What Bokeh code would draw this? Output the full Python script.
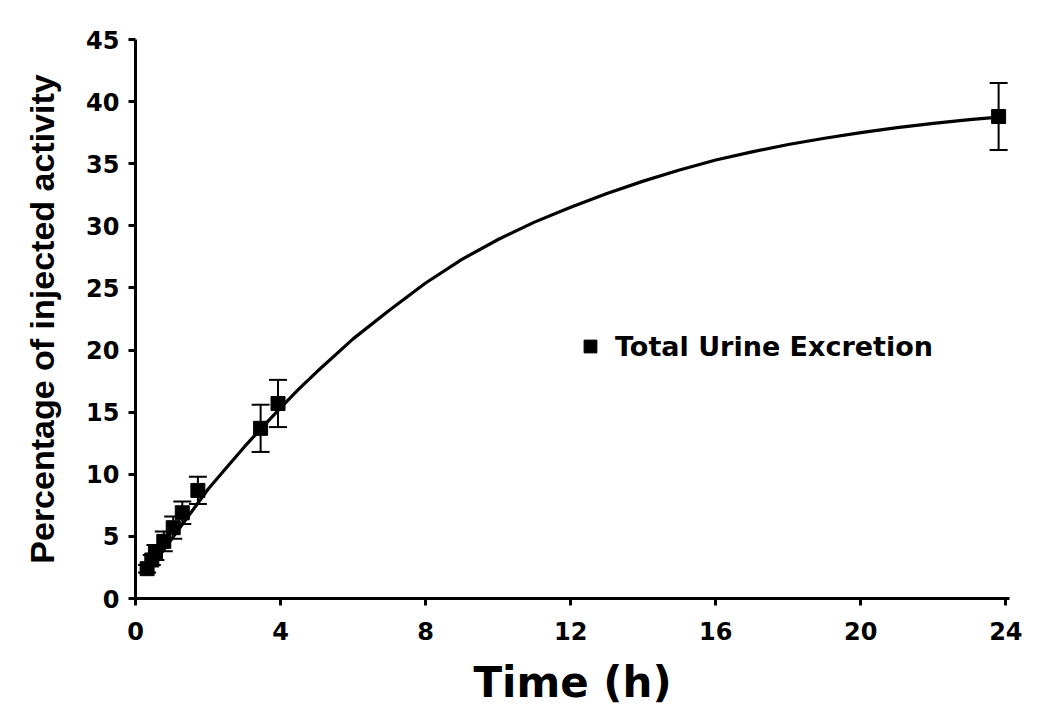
from bokeh.plotting import figure
from bokeh.models import ColumnDataSource, Whisker, TeeHead, Legend, LegendItem, Range1d, FixedTicker
from bokeh.embed import file_html
from bokeh.resources import INLINE

# Measured data (time in hours, % of injected activity, SD)
time_h = [0.32, 0.45, 0.55, 0.78, 1.04, 1.29, 1.72, 3.45, 3.93, 23.8]
urine_pct = [2.4, 3.1, 3.7, 4.6, 5.7, 6.9, 8.7, 13.7, 15.7, 38.8]
urine_err = [0.3, 0.4, 0.6, 0.8, 0.9, 0.9, 1.1, 1.9, 1.9, 2.7]

# Fitted curve, values
curve_t = [0.32, 0.5, 1.0, 1.5, 2.0, 2.5, 3.0, 3.5, 4.0, 4.5, 5.0, 6.0, 7.0, 8.0,
           9.0, 10.0, 11.0, 12.0, 13.0, 14.0, 15.0, 16.0, 17.0, 18.0, 19.0, 20.0,
           21.0, 22.0, 23.0, 23.8]
curve_y = [2.1, 2.8, 4.8, 6.8, 8.8, 10.5, 12.2, 13.8, 15.35, 16.85, 18.25, 20.9, 23.2, 25.4,
           27.3, 28.9, 30.3, 31.5, 32.6, 33.6, 34.5, 35.3, 35.95, 36.55, 37.05, 37.5,
           37.9, 38.25, 38.55, 38.75]

x_ticks = [0, 4, 8, 12, 16, 20, 24]
y_ticks = [0, 5, 10, 15, 20, 25, 30, 35, 40, 45]

FONT = "DejaVu Sans"

src = ColumnDataSource(dict(
    x=time_h, y=urine_pct,
    upper=[v + e for v, e in zip(urine_pct, urine_err)],
    lower=[v - e for v, e in zip(urine_pct, urine_err)],
))

p = figure(width=1034, height=709, output_backend="svg", toolbar_location=None,
           x_range=Range1d(0, 24.1), y_range=Range1d(0, 45),
           min_border_left=135, min_border_right=25, min_border_top=39, min_border_bottom=111)
p.outline_line_color = None
p.grid.visible = False
p.background_fill_color = "white"
p.border_fill_color = "white"

p.line(curve_t, curve_y, line_color="black", line_width=3.2)

whisk = Whisker(base="x", upper="upper", lower="lower", source=src, dimension="height",
                line_color="black", line_width=2,
                upper_head=TeeHead(size=18, line_width=2, line_color="black"),
                lower_head=TeeHead(size=18, line_width=2, line_color="black"))
p.add_layout(whisk)

sq = p.scatter("x", "y", source=src, marker="square", size=14,
               fill_color="black", line_color="black")

for ax, ticks in ((p.xaxis, x_ticks), (p.yaxis, y_ticks)):
    ax.ticker = FixedTicker(ticks=ticks)
    ax.axis_line_width = 3
    ax.axis_line_color = "black"
    ax.major_tick_line_width = 3
    ax.major_tick_line_color = "black"
    ax.major_tick_out = 7
    ax.major_tick_in = 0
    ax.minor_tick_line_color = None
    ax.major_label_text_font = FONT
    ax.major_label_text_font_style = "bold"
    ax.major_label_text_font_size = "24px"
    ax.major_label_text_color = "black"
    ax.axis_label_text_font_style = "bold"
    ax.axis_label_text_color = "black"

p.xaxis.axis_label = "Time (h)"
p.xaxis.axis_label_text_font = FONT
p.xaxis.axis_label_text_font_size = "42px"
p.xaxis.major_label_standoff = 16
p.xaxis.axis_label_standoff = 15

p.yaxis.axis_label = "Percentage of injected activity"
p.yaxis.axis_label_text_font = "Liberation Sans"
p.yaxis.axis_label_text_font_size = "34px"
p.yaxis.major_label_standoff = 9
p.yaxis.axis_label_standoff = 22

legend = Legend(items=[LegendItem(label="Total Urine Excretion", renderers=[sq])],
                location=(439, 236), padding=0, margin=0, spacing=0,
                glyph_width=32, glyph_height=32, label_height=32, label_standoff=9,
                label_text_font=FONT, label_text_font_style="bold",
                label_text_font_size="27px", label_text_color="black",
                border_line_color=None, background_fill_alpha=0)
p.add_layout(legend)

open("out.html", "w").write(file_html(p, INLINE))
